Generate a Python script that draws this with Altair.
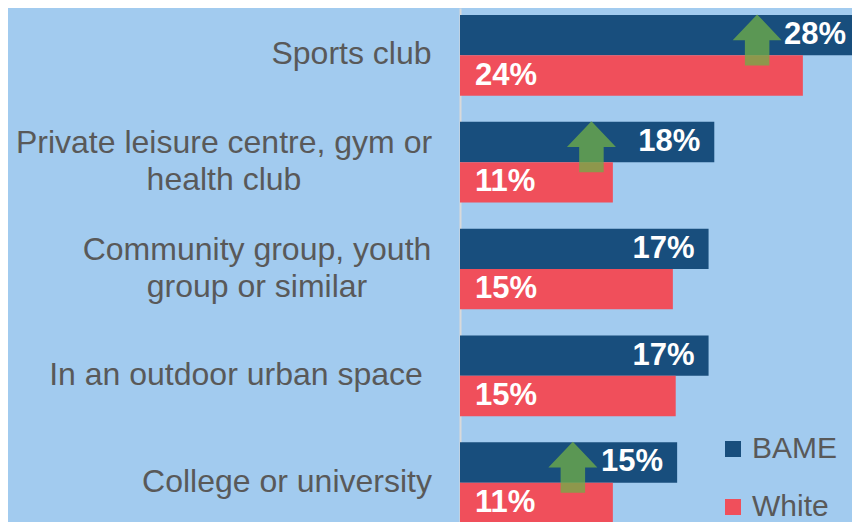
import altair as alt
import pandas as pd

# ---- data ----
categories = [
    "Sports club",
    "Private leisure centre, gym or health club",
    "Community group, youth group or similar",
    "In an outdoor urban space",
    "College or university",
]
label_lines = [
    ["Sports club"],
    ["Private leisure centre, gym or", "health club"],
    ["Community group, youth", "group or similar"],
    ["In an outdoor urban space"],
    ["College or university"],
]
series = ["BAME", "White"]
bame = [28.0, 17.8, 17.4, 17.4, 15.2]
white = [24.0, 10.7, 14.9, 15.1, 10.7]

arrow_categories = [
    "Sports club",
    "Private leisure centre, gym or health club",
    "College or university",
]
arrow_pos = [20.8, 9.2, 7.9]

# ---- styling ----
NAVY = "#184E7D"
RED = "#F04F5B"
BG = "#A2CBEF"
GREY = "#595959"
GREEN = "#70AD47"
FONT = "Arial, Liberation Sans, sans-serif"
LINE_H = 37
label_center_pad = [109, 236.5, 203.5, 224.5, 173.5]

rows = []
for c, b, w in zip(categories, bame, white):
    rows.append({"category": c, "series": "BAME", "value": b, "label": f"{round(b)}%"})
    rows.append({"category": c, "series": "White", "value": w, "label": f"{round(w)}%"})
df = pd.DataFrame(rows)
arrows = pd.DataFrame({"category": arrow_categories, "value": arrow_pos})


def js_str(s):
    return "'" + s.replace("'", "\\'") + "'"


label_expr = ""
pad_expr = ""
off_expr = ""
for c, lines, p in zip(categories, label_lines, label_center_pad):
    arr = "[" + ",".join(js_str(l) for l in lines) + "]"
    label_expr += f"datum.value == {js_str(c)} ? {arr} : "
    pad_expr += f"datum.value == {js_str(c)} ? {p} : "
    off_expr += f"datum.value == {js_str(c)} ? {-(len(lines) - 1) * LINE_H / 2 - 1} : "
label_expr += "datum.label"
pad_expr += "100"
off_expr += "0"

y_enc = alt.Y(
    "category:N",
    sort=categories,
    scale=alt.Scale(paddingInner=0.245, paddingOuter=0.0656),
    axis=alt.Axis(
        title=None,
        ticks=False,
        labelAlign="center",
        labelBaseline="middle",
        labelPadding=alt.ExprRef(expr=pad_expr),
        labelOffset=alt.ExprRef(expr=off_expr),
        labelExpr=label_expr,
        labelFont=FONT,
        labelFontSize=32,
        labelColor=GREY,
        labelLineHeight=LINE_H,
        labelLimit=0,
        domainColor="#D9D9D9",
        domainWidth=2,
        grid=False,
    ),
)
yoff_enc = alt.YOffset("series:N", sort=series,
                       scale=alt.Scale(domain=series, paddingInner=0, paddingOuter=0))
x_enc = alt.X("value:Q", scale=alt.Scale(domain=[0, 28], nice=False, zero=True), axis=None)

bars = alt.Chart(df).mark_bar(clip=True).encode(
    x=x_enc,
    y=y_enc,
    yOffset=yoff_enc,
    color=alt.Color(
        "series:N",
        scale=alt.Scale(domain=series, range=[NAVY, RED]),
        legend=alt.Legend(
            title=None,
            orient="none",
            legendX=258,
            legendY=426,
            symbolType="square",
            symbolSize=256,
            symbolStrokeWidth=0,
            labelFont=FONT,
            labelFontSize=30,
            labelColor=GREY,
            labelOffset=4,
            rowPadding=28,
            padding=0,
        ),
    ),
)

text_b = alt.Chart(df).transform_filter(alt.datum.series == "BAME").mark_text(
    align="right", baseline="middle", dx=-14, color="white",
    font=FONT, fontWeight="bold", fontSize=31,
).encode(x=x_enc, y=y_enc, yOffset=yoff_enc, text="label:N")

text_w = alt.Chart(df).transform_filter(alt.datum.series == "White").mark_text(
    align="left", baseline="middle", dx=15, color="white",
    font=FONT, fontWeight="bold", fontSize=31,
).encode(x=alt.datum(0), y=y_enc, yOffset=yoff_enc, text="label:N")

arrow_path = "M0,-1.67L1,-0.62L0.5,-0.62L0.5,0.41L-0.5,0.41L-0.5,-0.62L-1,-0.62Z"
arrow_layer = alt.Chart(arrows).mark_point(
    shape=arrow_path, size=2401, filled=True, color=GREEN, opacity=0.77, strokeWidth=0,
).encode(x=x_enc, y=y_enc)

chart = alt.layer(bars, arrow_layer, text_b, text_w).properties(
    width=400,
    height=522,
    padding={"left": 452, "top": 0, "right": -8, "bottom": -8},
    autosize=alt.AutoSizeParams(type="none"),
    background=BG,
).configure_view(stroke=None)

chart.save("out.html", embed_options={"renderer": "svg", "actions": False})
